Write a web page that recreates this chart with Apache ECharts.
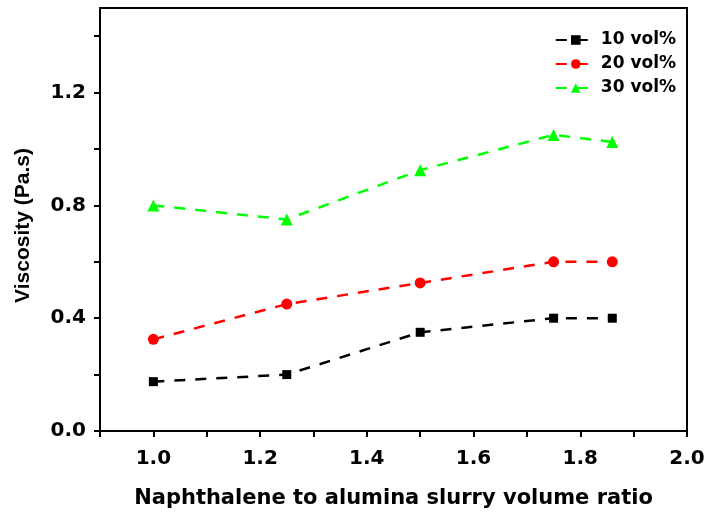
<!DOCTYPE html>
<html><head><meta charset="utf-8">
<script src="https://cdn.jsdelivr.net/npm/echarts@6/dist/echarts.min.js"></script>
<style>html,body{margin:0;padding:0;background:#fff}#c{width:708px;height:516px}</style>
</head><body><div id="c"></div>
<script>
const xValues = [1.0, 1.25, 1.5, 1.75, 1.86];
const vol10 = [0.175, 0.20, 0.35, 0.40, 0.40];
const vol20 = [0.325, 0.45, 0.525, 0.60, 0.60];
const vol30 = [0.80, 0.75, 0.925, 1.05, 1.025];
const seriesNames = ['10 vol%', '20 vol%', '30 vol%'];
const xLabels = ['1.0','1.2','1.4','1.6','1.8','2.0'];
const yLabels = ['0.0','0.4','0.8','1.2'];
const yTicks = [0, 0.2, 0.4, 0.6, 0.8, 1.0, 1.2, 1.4];

const font = '"Liberation Sans", Arial, sans-serif';
const wide = '"DejaVu Sans", sans-serif';
function mk(name, vals, color, symbol, size) {
  return {
    name, type: 'line', data: xValues.map((x, i) => [x, vals[i]]),
    symbol, symbolSize: size,
    itemStyle: {color},
    lineStyle: {color, width: 2.5, type: [11, 10]},
    z: 3
  };
}
const chart = echarts.init(document.getElementById('c'));
chart.setOption({
  animation: false,
  grid: {left: 100, top: 8, right: 21, bottom: 85, show: true, borderColor: '#000', borderWidth: 2},
  legend: {
    right: 27, top: 26, orient: 'vertical', itemWidth: 40, itemHeight: 12, itemGap: 6,
    textStyle: {fontFamily: wide, fontWeight: 'bold', fontSize: 17, color: '#000', lineHeight: 18},
    data: seriesNames
  },
  xAxis: {
    type: 'value', min: 0.9, max: 2.0, interval: 0.1,
    name: 'Naphthalene to alumina slurry volume ratio', nameLocation: 'middle', nameGap: 57,
    nameTextStyle: {fontFamily: wide, fontWeight: 'bold', fontSize: 21, color: '#000'},
    axisLine: {lineStyle: {color: '#000', width: 2}},
    axisTick: {show: true, length: 6, lineStyle: {color: '#000', width: 2}},
    splitLine: {show: false},
    axisLabel: {
      margin: 18, fontFamily: wide, fontWeight: 'bold', fontSize: 20, color: '#000',
      formatter: v => { const s = v.toFixed(1); return xLabels.includes(s) && Math.abs(v - 0.9) > 1e-6 ? s : ''; }
    }
  },
  yAxis: {
    type: 'value', min: 0, max: 1.5, interval: 0.2,
    name: 'Viscosity (Pa.s)', nameLocation: 'middle', nameGap: 66, nameRotate: 90,
    nameTextStyle: {fontFamily: font, fontWeight: 'bold', fontSize: 21, color: '#000', padding: [0, 12, 0, 0]},
    axisLine: {show: true, lineStyle: {color: '#000', width: 2}},
    axisTick: {show: true, length: 6, customValues: yTicks, lineStyle: {color: '#000', width: 2}},
    splitLine: {show: false},
    axisLabel: {
      margin: 14, fontFamily: wide, fontWeight: 'bold', fontSize: 20, color: '#000',
      formatter: v => { const s = v.toFixed(1); return yLabels.includes(s) ? s : ''; }
    }
  },
  series: [
    mk(seriesNames[0], vol10, '#000000', 'rect', 9),
    mk(seriesNames[1], vol20, '#ff0000', 'circle', 11),
    mk(seriesNames[2], vol30, '#00ff00', 'triangle', 12)
  ]
});
</script></body></html>
